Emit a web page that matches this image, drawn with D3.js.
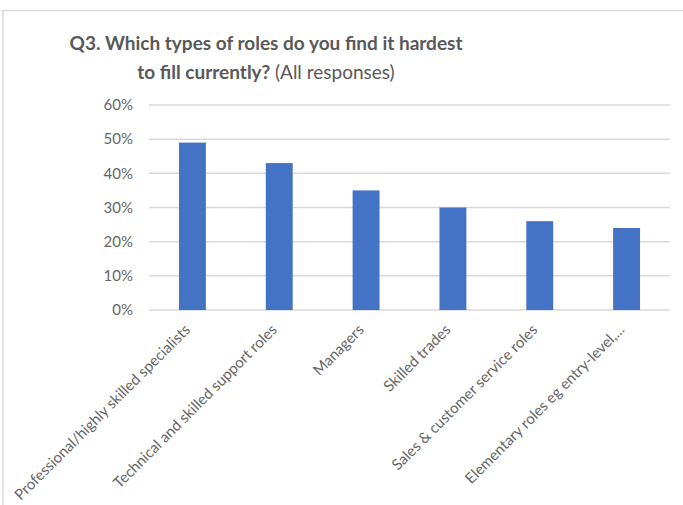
<!DOCTYPE html>
<html>
<head>
<meta charset="utf-8">
<script src="https://cdn.jsdelivr.net/npm/d3@7"></script>
<style>
  body { margin: 0; background: #fff; }
  text { font-family: Lato, "Open Sans", sans-serif; fill: #595959; }
</style>
</head>
<body>
<div id="chart"></div>
<script>
// data
var categories = ["Professional/highly skilled specialists", "Technical and skilled support roles",
                  "Managers", "Skilled trades", "Sales & customer service roles",
                  "Elementary roles eg entry-level,..."];
var values = [0.49, 0.43, 0.35, 0.30, 0.26, 0.24];
var yTicks = [0, 0.1, 0.2, 0.3, 0.4, 0.5, 0.6];

var w = 683, h = 505;
var margin = {left: 149, right: 13, top: 105, bottom: 195};

var svg = d3.select("#chart").append("svg")
  .attr("width", w).attr("height", h);

// chart frame (only top and left edges show in the reference)
svg.append("line").attr("x1", 3).attr("x2", w).attr("y1", 10.5).attr("y2", 10.5)
  .attr("stroke", "#d9d9d9").attr("stroke-width", 1.5);
svg.append("line").attr("x1", 3).attr("x2", 3).attr("y1", 10).attr("y2", h)
  .attr("stroke", "#d9d9d9").attr("stroke-width", 1.5);

var x = d3.scaleBand().domain(categories)
  .range([margin.left, w - margin.right])
  .paddingInner(0.69).paddingOuter(0.345);

var y = d3.scaleLinear().domain([0, 0.6])
  .range([h - margin.bottom, margin.top]);

// gridlines
svg.append("g").selectAll("line").data(yTicks).enter().append("line")
  .attr("x1", margin.left).attr("x2", w - margin.right)
  .attr("y1", function(d) { return y(d); })
  .attr("y2", function(d) { return y(d); })
  .attr("stroke", "#d9d9d9").attr("stroke-width", 1.5);

// y axis labels
var yAxis = d3.axisLeft(y).tickValues(yTicks).tickFormat(d3.format(".0%")).tickSize(0).tickPadding(16);
var ya = svg.append("g").attr("transform", "translate(" + margin.left + ",0)").call(yAxis);
ya.select(".domain").remove();
ya.selectAll("text").style("font-size", "15px").style("fill", "#666");

// bars
svg.append("g").selectAll("rect").data(values).enter().append("rect")
  .attr("x", function(d, i) { return x(categories[i]); })
  .attr("y", function(d) { return y(d); })
  .attr("width", x.bandwidth())
  .attr("height", function(d) { return y(0) - y(d); })
  .attr("fill", "#4472c4");

// category labels, rotated
var xAxis = d3.axisBottom(x).tickSize(0).tickPadding(0);
var xa = svg.append("g").attr("transform", "translate(0," + (y(0) + 8) + ")").call(xAxis);
xa.select(".domain").remove();
xa.selectAll("text")
  .style("font-size", "15px").style("fill", "#666")
  .attr("text-anchor", "end")
  .attr("dy", "0.35em")
  .attr("transform", "translate(-5,9) rotate(-45)");

// title
var title = svg.append("text").attr("text-anchor", "middle").attr("x", 266);
title.append("tspan").attr("x", 266).attr("y", 50)
  .style("font-size", "19px").style("font-weight", "bold")
  .text("Q3. Which types of roles do you find it hardest");
var t2 = title.append("tspan").attr("x", 266).attr("y", 79);
t2.append("tspan").style("font-size", "19px").style("font-weight", "bold").text("to fill currently? ");
t2.append("tspan").style("font-size", "19px").text("(All responses)");
</script>
</body>
</html>
